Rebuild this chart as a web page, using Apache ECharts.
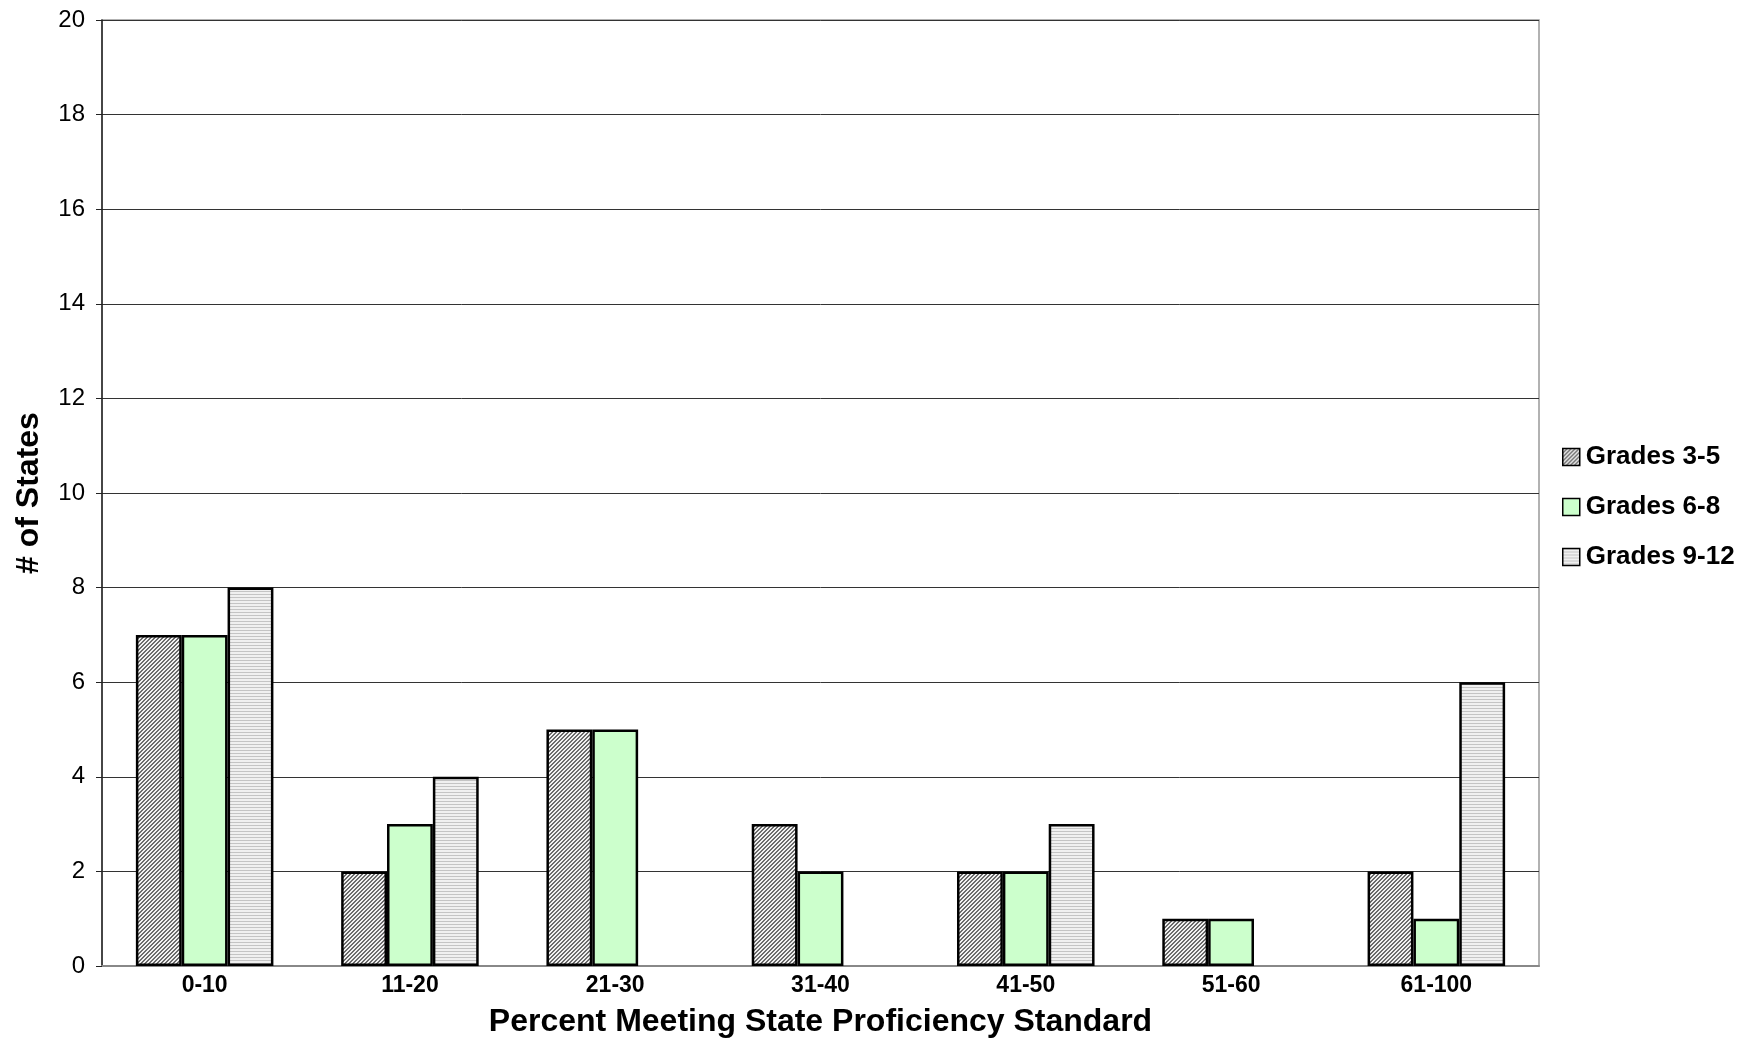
<!DOCTYPE html>
<html>
<head>
<meta charset="utf-8">
<script src="https://cdn.jsdelivr.net/npm/echarts@6/dist/echarts.min.js"></script>
<style>
html,body{margin:0;padding:0;background:#fff;}
#chart{width:1760px;height:1039px;}
</style>
</head>
<body>
<div id="chart"></div>
<script>
var categories = ['0-10', '11-20', '21-30', '31-40', '41-50', '51-60', '61-100'];
var grades35 = [7, 2, 5, 3, 2, 1, 2];
var grades68 = [7, 3, 5, 2, 2, 1, 1];
var grades912 = [8, 4, null, null, 3, null, 6];
var seriesNames = ['Grades 3-5', 'Grades 6-8', 'Grades 9-12'];

function hatchPattern() {
  var c = document.createElement('canvas');
  c.width = 4; c.height = 4;
  var ctx = c.getContext('2d');
  ctx.fillStyle = '#f0f0f0';
  ctx.fillRect(0, 0, 4, 4);
  ctx.fillStyle = '#6a6a6a';
  for (var i = 0; i < 4; i++) {
    ctx.fillRect(i, 3 - i, 1, 1);
    ctx.fillRect((i + 1) % 4, 3 - i, 1, 1);
  }
  return c;
}
function stripePattern() {
  var c = document.createElement('canvas');
  c.width = 4; c.height = 3;
  var ctx = c.getContext('2d');
  ctx.fillStyle = '#f0f0f0';
  ctx.fillRect(0, 0, 4, 3);
  ctx.fillStyle = '#c4c4c4';
  ctx.fillRect(0, 0, 4, 1);
  return c;
}
var fills = [
  { image: hatchPattern(), repeat: 'repeat' },
  '#ccffcc',
  { image: stripePattern(), repeat: 'repeat' }
];
var dataSets = [grades35, grades68, grades912];

var chart = echarts.init(document.getElementById('chart'));
var option = {
  animation: false,
  backgroundColor: '#ffffff',
  textStyle: { fontFamily: 'Liberation Sans, Arial, sans-serif' },
  grid: { left: 102, right: 221, top: 20, bottom: 73, show: true, borderColor: '#999999', borderWidth: 1.5, containLabel: false, outerBoundsMode: 'none' },
  legend: {
    orient: 'vertical',
    left: 1557,
    top: 439,
    itemWidth: 17,
    itemHeight: 17,
    itemGap: 24,
    icon: 'rect',
    textStyle: { fontSize: 26, fontWeight: 'bold', color: '#000', padding: [0, 0, 0, 1] },
    itemStyle: { borderColor: '#000', borderWidth: 1.5 },
    data: seriesNames
  },
  xAxis: {
    type: 'category',
    data: categories,
    name: 'Percent Meeting State Proficiency Standard',
    nameLocation: 'middle',
    nameGap: 40,
    nameTextStyle: { fontSize: 32, fontWeight: 'bold', color: '#000' },
    axisLine: { lineStyle: { color: '#888888', width: 2 } },
    axisTick: { show: false },
    axisLabel: { fontSize: 23, fontWeight: 'bold', color: '#000', margin: 8 }
  },
  yAxis: {
    type: 'value',
    min: 0, max: 20, interval: 2,
    name: '# of States',
    nameLocation: 'middle',
    nameGap: 57,
    nameTextStyle: { fontSize: 32, fontWeight: 'bold', color: '#000' },
    axisLine: { show: true, lineStyle: { color: '#222', width: 1.5 } },
    axisTick: { show: true, length: 6, lineStyle: { color: '#222' } },
    axisLabel: { fontSize: 24, color: '#000', margin: 17 },
    splitLine: { lineStyle: { color: '#333', width: 1 } }
  },
  series: seriesNames.map(function (n, i) {
    return {
      name: n,
      type: 'bar',
      data: dataSets[i],
      barGap: '0%',
      barCategoryGap: '33%',
      itemStyle: { color: fills[i], borderColor: '#000', borderWidth: 2.5 }
    };
  })
};
chart.setOption(option);
</script>
</body>
</html>
